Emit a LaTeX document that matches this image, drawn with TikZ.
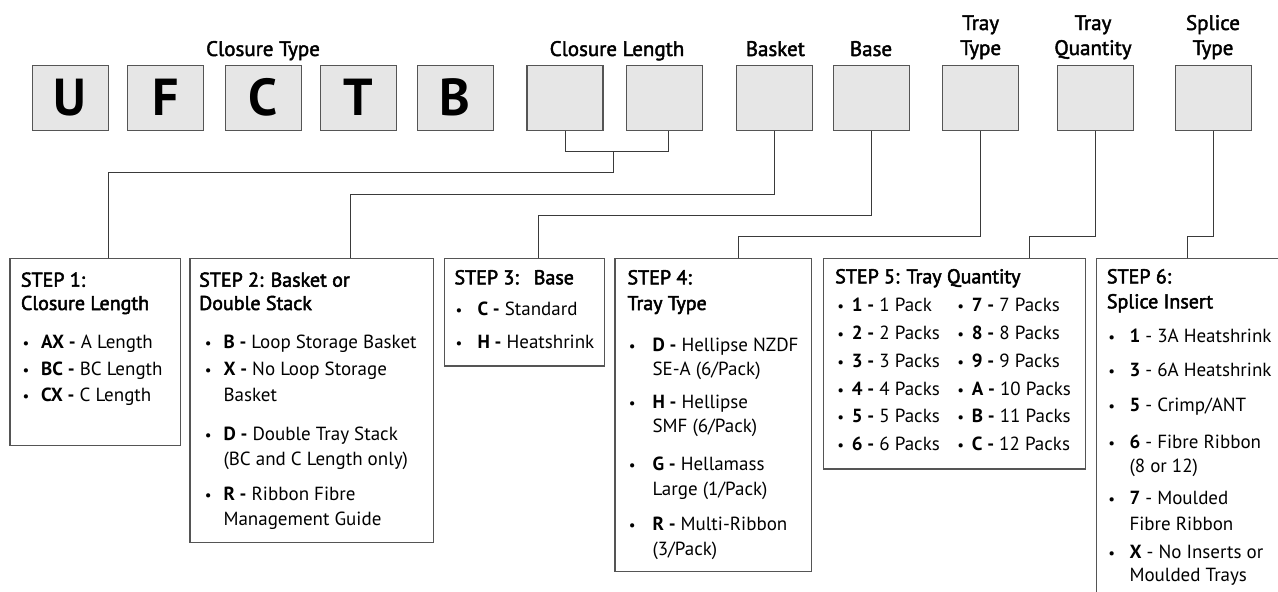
\documentclass[tikz,border=0pt]{standalone}
\usepackage{fontspec}
\setmainfont{PT Sans}
\newfontfamily\hdfont{PT Sans}[FakeBold=2.5]
\newfontfamily\lblfont{PT Sans}[FakeBold=2]
\definecolor{boxfill}{HTML}{E6E6E6}
\definecolor{edge}{HTML}{555555}
\definecolor{wire}{HTML}{3A3A3A}
\tikzset{
  topbox/.style={draw=edge, fill=boxfill, line width=1.3pt, minimum width=76pt, minimum height=65pt, inner sep=0pt, font=\fontsize{52}{52}\selectfont\bfseries},
  toplbl/.style={anchor=base, inner sep=0pt, font=\lblfont\fontsize{21}{22}\selectfont},
  stepbox/.style={draw=edge, line width=1.3pt, inner sep=0pt, anchor=north west},
  hd/.style={anchor=base west, inner sep=0pt, font=\hdfont\fontsize{20}{22}\selectfont},
  txt/.style={anchor=base west, inner sep=0pt, font=\fontsize{19}{20}\selectfont},
  bul/.style={anchor=base, inner sep=0pt, font=\fontsize{15}{20}\selectfont},
  wirestyle/.style={draw=wire, line width=1pt}
}
\newcommand\bl[3]{\node[bul] (#1) at (#2,#3) {•};}
\newcommand\tx[4]{\node[txt] (#1) at (#2,#3) {#4};}
\newcommand\hx[4]{\node[hd] (#1) at (#2,#3) {#4};}
\begin{document}
\begin{tikzpicture}[x=1pt,y=-1pt]
\useasboundingbox (0,0) rectangle (1278,592);
\clip (0,0) rectangle (1278,592);
% top boxes
\node[topbox] (bU) at (70.3,97.7) {U};
\node[topbox] (bF) at (165.7,97.7) {F};
\node[topbox] (bC) at (263.3,97.7) {C};
\node[topbox] (bT) at (358.2,97.7) {T};
\node[topbox] (bB) at (455.2,97.7) {B};
\node[topbox] (cl1) at (565,97.7) {};
\node[topbox] (cl2) at (664.5,97.7) {};
\node[topbox] (bask) at (774.2,97.7) {};
\node[topbox] (base) at (871.2,97.7) {};
\node[topbox] (ttype) at (980.7,97.7) {};
\node[topbox] (tqty) at (1095.2,97.7) {};
\node[topbox] (splice) at (1213.2,97.7) {};
% top labels
\node[toplbl] (lct) at (263,56) {Closure Type};
\node[toplbl] (lcl) at (617,56) {Closure Length};
\node[toplbl] (lbk) at (775.3,56) {Basket};
\node[toplbl] (lbs) at (871,56) {Base};
\node[toplbl] (ltt1) at (980.7,30) {Tray};
\node[toplbl] (ltt2) at (980.7,55) {Type};
\node[toplbl] (ltq1) at (1093,30) {Tray};
\node[toplbl] (ltq2) at (1093,55) {Quantity};
\node[toplbl] (lsp1) at (1213,30) {Splice};
\node[toplbl] (lsp2) at (1213,55) {Type};
% step boxes
\node[stepbox, minimum width=170.7pt, minimum height=187.3pt] (s1) at (9.3,257.7) {};
\node[stepbox, minimum width=243.2pt, minimum height=284.3pt] (s2) at (189.3,257.7) {};
\node[stepbox, minimum width=160.3pt, minimum height=107.6pt] (s3) at (443.7,257.7) {};
\node[stepbox, minimum width=196.5pt, minimum height=313pt] (s4) at (614.3,257.7) {};
\node[stepbox, minimum width=262pt, minimum height=210.6pt] (s5) at (822.7,257.7) {};
\node[stepbox, minimum width=220pt, minimum height=360pt] (s6) at (1095.7,257.7) {};
% connectors
\coordinate (br) at (613.3,151.7);
\coordinate (k1) at (108.3,172.7);
\coordinate (k2) at (350.3,194);
\coordinate (k3) at (538.7,215.3);
\coordinate (k4) at (738.7,236.7);
\coordinate (k5) at (1029.7,236.7);
\coordinate (k6) at (1187,236.7);
\draw[wirestyle] (cl1.south) |- (br) -| ([xshift=4pt]cl2.south);
\draw[wirestyle] (br) |- (k1) -- (k1 |- s1.north);
\draw[wirestyle] (bask.south) |- (k2) -- (k2 |- s2.north);
\draw[wirestyle] (base.south) |- (k3) -- (k3 |- s3.north);
\draw[wirestyle] (ttype.south) |- (k4) -- (k4 |- s4.north);
\draw[wirestyle] (tqty.south) |- (k5) -- (k5 |- s5.north);
\draw[wirestyle] (splice.south) |- (k6) -- (k6 |- s6.north);
% STEP 1
\hx{h1a}{20.7}{286.7}{STEP 1:}
\hx{h1b}{20.7}{310}{Closure Length}
\bl{b1a}{26}{348.3}\tx{t1a}{41}{348.3}{\textbf{AX -} A Length}
\bl{b1b}{26}{375}\tx{t1b}{41}{375}{\textbf{BC -} BC Length}
\bl{b1c}{26}{401.7}\tx{t1c}{41}{401.7}{\textbf{CX -} C Length}
% STEP 2
\hx{h2a}{199}{286.7}{STEP 2: Basket or}
\hx{h2b}{199}{310}{Double Stack}
\bl{b2a}{208.3}{348.3}\tx{t2a}{223.3}{348.3}{\textbf{B -} Loop Storage Basket}
\bl{b2b}{208.3}{375}\tx{t2b}{223.3}{375}{\textbf{X -} No Loop Storage}
\tx{t2c}{223.3}{401.7}{Basket}
\bl{b2d}{208.3}{440}\tx{t2d}{223.3}{440}{\textbf{D -} Double Tray Stack}
\tx{t2e}{223.3}{465}{(BC and C Length only)}
\bl{b2f}{208.3}{500.7}\tx{t2f}{223.3}{500.7}{\textbf{R -} Ribbon Fibre}
\tx{t2g}{223.3}{525.7}{Management Guide}
% STEP 3
\hx{h3a}{454.3}{284.3}{STEP 3:\hspace{15pt}Base}
\bl{b3a}{459}{315}\tx{t3a}{477.3}{315}{\textbf{C -} Standard}
\bl{b3b}{459}{348.3}\tx{t3b}{477.3}{348.3}{\textbf{H -} Heatshrink}
% STEP 4
\hx{h4a}{627.3}{284.3}{STEP 4:}
\hx{h4b}{627.3}{310}{Tray Type}
\bl{b4a}{632.3}{351.7}\tx{t4a}{652.3}{351.7}{\textbf{D -} Hellipse NZDF}
\tx{t4b}{652.3}{375}{SE-A (6/Pack)}
\bl{b4c}{632.3}{408.3}\tx{t4c}{652.3}{408.3}{\textbf{H -} Hellipse}
\tx{t4d}{652.3}{432.7}{SMF (6/Pack)}
\bl{b4e}{632.3}{470}\tx{t4e}{652.3}{470}{\textbf{G -} Hellamass}
\tx{t4f}{652.3}{495}{Large (1/Pack)}
\bl{b4g}{632.3}{530}\tx{t4g}{652.3}{530}{\textbf{R -} Multi-Ribbon}
\tx{t4h}{652.3}{555}{(3/Pack)}
% STEP 5
\hx{h5a}{835}{283.3}{STEP 5: Tray Quantity}
\bl{b5a}{840.7}{311.7}\tx{t5a}{851.7}{311.7}{\textbf{1 -} 1 Pack}
\bl{b5b}{840.7}{339.3}\tx{t5b}{851.7}{339.3}{\textbf{2 -} 2 Packs}
\bl{b5c}{840.7}{367.3}\tx{t5c}{851.7}{367.3}{\textbf{3 -} 3 Packs}
\bl{b5d}{840.7}{395}\tx{t5d}{851.7}{395}{\textbf{4 -} 4 Packs}
\bl{b5e}{840.7}{422.7}\tx{t5e}{851.7}{422.7}{\textbf{5 -} 5 Packs}
\bl{b5f}{840.7}{450.7}\tx{t5f}{851.7}{450.7}{\textbf{6 -} 6 Packs}
\bl{b5g}{960.7}{311.7}\tx{t5g}{971.7}{311.7}{\textbf{7 -} 7 Packs}
\bl{b5h}{960.7}{339.3}\tx{t5h}{971.7}{339.3}{\textbf{8 -} 8 Packs}
\bl{b5i}{960.7}{367.3}\tx{t5i}{971.7}{367.3}{\textbf{9 -} 9 Packs}
\bl{b5j}{960.7}{395}\tx{t5j}{971.7}{395}{\textbf{A -} 10 Packs}
\bl{b5k}{960.7}{422.7}\tx{t5k}{971.7}{422.7}{\textbf{B -} 11 Packs}
\bl{b5l}{960.7}{450.7}\tx{t5l}{971.7}{450.7}{\textbf{C -} 12 Packs}
% STEP 6
\hx{h6a}{1106.7}{283.3}{STEP 6:}
\hx{h6b}{1106.7}{308.3}{Splice Insert}
\bl{b6a}{1111.7}{342.7}\tx{t6a}{1129.3}{342.7}{\textbf{1} - 3A Heatshrink}
\bl{b6b}{1111.7}{376.7}\tx{t6b}{1129.3}{376.7}{\textbf{3} - 6A Heatshrink}
\bl{b6c}{1111.7}{411.7}\tx{t6c}{1129.3}{411.7}{\textbf{5} - Crimp/ANT}
\bl{b6d}{1111.7}{448.3}\tx{t6d}{1129.3}{448.3}{\textbf{6} - Fibre Ribbon}
\tx{t6e}{1129.3}{472.3}{(8 or 12)}
\bl{b6f}{1111.7}{504.3}\tx{t6f}{1129.3}{504.3}{\textbf{7} - Moulded}
\tx{t6g}{1129.3}{530}{Fibre Ribbon}
\bl{b6h}{1111.7}{558.3}\tx{t6h}{1129.3}{558.3}{\textbf{X} - No Inserts or}
\tx{t6i}{1129.3}{581.7}{Moulded Trays}
\end{tikzpicture}
\end{document}
